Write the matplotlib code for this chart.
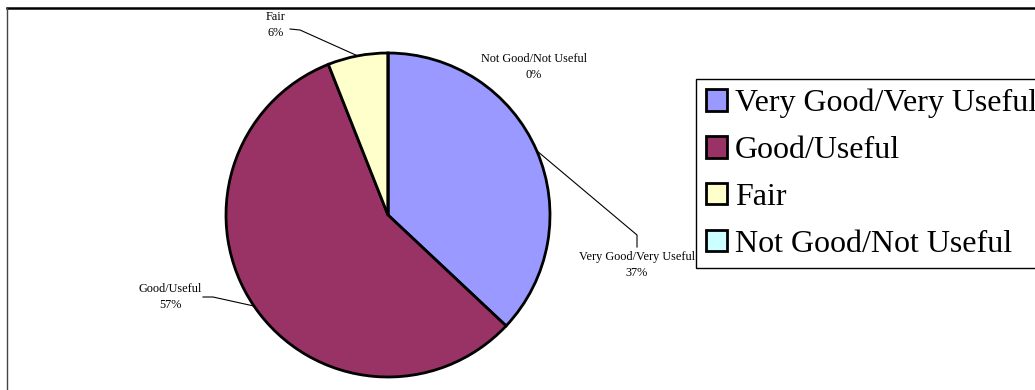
import numpy as np
import matplotlib.pyplot as plt

categories = ["Very Good/Very Useful", "Good/Useful", "Fair", "Not Good/Not Useful"]
shares = [37, 57, 6, 0]
colors = ["#9999FF", "#993366", "#FFFFCC", "#CCFFFF"]

W, H = 1035, 390
plt.rcParams["font.family"] = ["Liberation Serif", "DejaVu Serif"]

fig = plt.figure(figsize=(W / 100, H / 100), dpi=100)
ax = fig.add_axes([0, 0, 1, 1])


def py(y):
    # pixel rows counted from the top
    return H - y


cx, cy, r = 388, py(215), 162
wedges, _ = ax.pie(shares, colors=colors, startangle=90, counterclock=False,
                   center=(cx, cy), radius=r,
                   wedgeprops=dict(edgecolor="black", linewidth=2.0))
ax.set_xlim(0, W)
ax.set_ylim(0, H)
ax.set_aspect("equal")
ax.axis("off")

# label text centre and the bend of each leader line (None = no line)
label_pos = [(637, 265), (170, 297), (276, 25), (534, 67)]
leader = [[(637, 247), (637, 235)],
          [(203, 297), (213, 297)],
          [(290, 29), (300, 30)],
          None]

for w, name, val, (lx, ly), pts in zip(wedges, categories, shares, label_pos, leader):
    ax.text(lx, py(ly), f"{name}\n{val}%", ha="center", va="center",
            fontsize=8.8, linespacing=1.45, color="black")
    if pts is None:
        continue
    mid = np.deg2rad((w.theta1 + w.theta2) / 2)
    ex, ey = cx + r * np.cos(mid), cy + r * np.sin(mid)
    xs = [p[0] for p in pts] + [ex]
    ys = [py(p[1]) for p in pts] + [ey]
    ax.plot(xs, ys, color="black", linewidth=0.8)

# outer chart border: heavier top edge, thin left edge
ax.plot([7, W + 5], [py(8), py(8)], color="black", linewidth=1.8, clip_on=False)
ax.plot([7, 7], [py(8), py(H + 5)], color="#444444", linewidth=1.0, clip_on=False)

leg = ax.legend(wedges, categories, loc="upper left",
                bbox_to_anchor=(696 / W, 1 - 79 / H), bbox_transform=fig.transFigure,
                fontsize=23, frameon=True, fancybox=False, framealpha=1,
                edgecolor="black", borderpad=0.3, borderaxespad=0,
                handlelength=0.66, handleheight=0.66, handletextpad=0.25,
                labelspacing=0.56)
leg.get_frame().set_linewidth(1.0)
leg.set_zorder(5)

fig.savefig("out.png", dpi=100)
